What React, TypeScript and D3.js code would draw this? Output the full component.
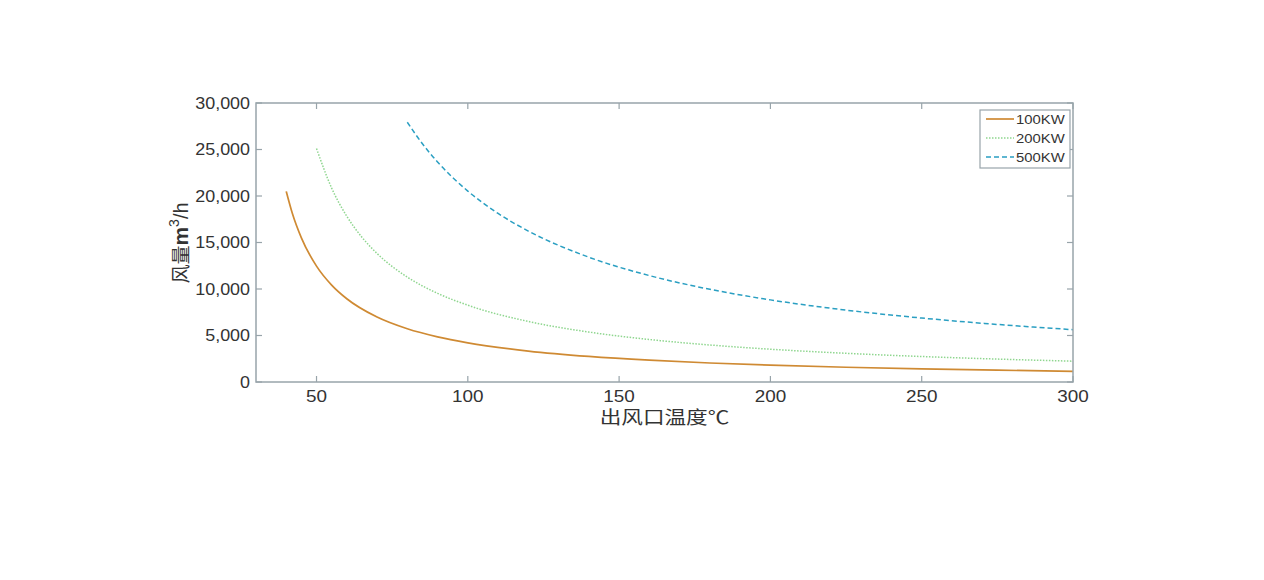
import React from "react";
import * as d3 from "d3";

const series100T = [40, 42, 45, 50, 55, 60, 70, 80, 90, 100, 120, 140, 160, 180, 200, 225, 250, 275, 300];
const series100Q = [20500, 18150, 15500, 12460, 10420, 8950, 6980, 5720, 4850, 4210, 3330, 2750, 2345, 2045, 1810, 1585, 1410, 1270, 1150];
const series200T = [50, 55, 60, 65, 70, 80, 90, 100, 120, 140, 160, 180, 200, 225, 250, 275, 300];
const series200Q = [25100, 20850, 17830, 15570, 13820, 11280, 9535, 8255, 6510, 5370, 4570, 3980, 3525, 3085, 2740, 2465, 2240];
const series500T = [80, 85, 90, 100, 110, 120, 140, 160, 180, 200, 225, 250, 275, 300];
const series500Q = [27930, 25620, 23660, 20530, 18130, 16230, 13420, 11440, 9970, 8830, 7730, 6875, 6190, 5625];
const seriesNames = ["100KW", "200KW", "500KW"];
const xTicks = [50, 100, 150, 200, 250, 300];
const yTicks = [0, 5000, 10000, 15000, 20000, 25000, 30000];

const colors = ["#cf8a33", "#8fd68f", "#2a9fc2"];
const dashes = ["none", "1.5,1.5", "5,3"];
const widths = [1.7, 1.5, 1.5];
const axisColor = "#98a4aa";
const textColor = "#333";

export default function App() {
  const left = 256, right = 1073, top = 103, bottom = 382;
  const x = d3.scaleLinear().domain([30, 300]).range([left, right]);
  const y = d3.scaleLinear().domain([0, 30000]).range([bottom, top]);
  const line = d3
    .line<[number, number]>()
    .x((d) => x(d[0]))
    .y((d) => y(d[1]))
    .curve(d3.curveMonotoneX);
  const data: [number, number][][] = [
    series100T.map((t, i) => [t, series100Q[i]]),
    series200T.map((t, i) => [t, series200Q[i]]),
    series500T.map((t, i) => [t, series500Q[i]]),
  ];
  const fmt = d3.format(",");
  const font = "'Liberation Sans', Arial, sans-serif";
  const cjk = "'Noto Sans CJK SC', sans-serif";
  const tl = 6;
  return (
    <svg width={1264} height={580} style={{ position: "absolute", left: 0, top: 0, background: "#fff" }}>
      <rect x={0} y={0} width={1264} height={580} fill="#fff" />
      {data.map((d, i) => (
        <path
          key={i}
          d={line(d) || ""}
          fill="none"
          stroke={colors[i]}
          strokeWidth={widths[i]}
          strokeDasharray={dashes[i]}
        />
      ))}
      <rect x={left} y={top} width={right - left} height={bottom - top} fill="none" stroke={axisColor} strokeWidth={1.5} />
      {xTicks.map((t) => (
        <g key={t}>
          <line x1={x(t)} x2={x(t)} y1={bottom} y2={bottom - tl} stroke={axisColor} strokeWidth={1.2} />
          <line x1={x(t)} x2={x(t)} y1={top} y2={top + tl} stroke={axisColor} strokeWidth={1.2} />
          <text
            transform={`translate(${x(t)}, ${bottom + 20}) scale(1.18, 1)`}
            textAnchor="middle"
            fontFamily={font}
            fontSize={16}
            fill={textColor}
          >
            {t}
          </text>
        </g>
      ))}
      {yTicks.map((t) => (
        <g key={t}>
          <line x1={left} x2={left + tl} y1={y(t)} y2={y(t)} stroke={axisColor} strokeWidth={1.2} />
          <line x1={right} x2={right - tl} y1={y(t)} y2={y(t)} stroke={axisColor} strokeWidth={1.2} />
          <text
            transform={`translate(${left - 6}, ${y(t) + 5.5}) scale(1.12, 1)`}
            textAnchor="end"
            fontFamily={font}
            fontSize={16}
            fill={textColor}
          >
            {fmt(t)}
          </text>
        </g>
      ))}
      <text
        transform={`translate(${(left + right) / 2}, 424) scale(1.2, 1)`}
        textAnchor="middle"
        fontFamily={cjk}
        fontSize={18}
        fill={textColor}
      >
        出风口温度℃
      </text>
      <text
        transform={`translate(188, 243) rotate(-90)`}
        textAnchor="middle"
        fontFamily={font}
        fontSize={19}
        fill={textColor}
      >
        <tspan fontFamily={cjk}>风量</tspan>
        <tspan fontWeight="bold" fontSize={21}>m</tspan>
        <tspan fontSize={14} dy={-9}>3</tspan>
        <tspan dy={9} fontSize={20}>/h</tspan>
      </text>
      <g>
        <rect x={980} y={110} width={90} height={58} fill="#fff" stroke={axisColor} strokeWidth={1.2} />
        {seriesNames.map((n, i) => (
          <g key={n}>
            <line
              x1={986}
              x2={1014}
              y1={119 + i * 19}
              y2={119 + i * 19}
              stroke={colors[i]}
              strokeWidth={widths[i]}
              strokeDasharray={dashes[i]}
            />
            <text
              transform={`translate(1016, ${123.5 + i * 19}) scale(1.1, 1)`}
              fontFamily={font}
              fontSize={13.5}
              fill={textColor}
            >
              {n}
            </text>
          </g>
        ))}
      </g>
    </svg>
  );
}
